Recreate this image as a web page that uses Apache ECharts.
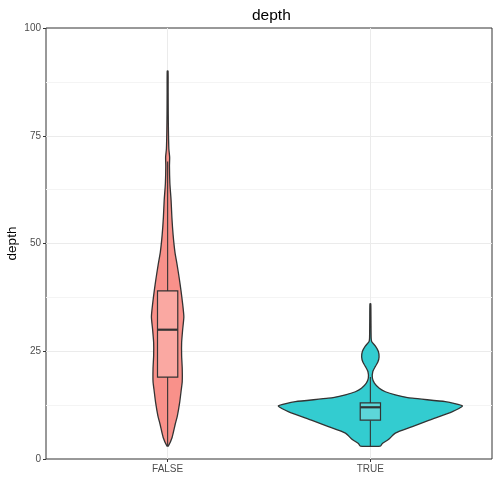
<!DOCTYPE html>
<html>
<head>
<meta charset="utf-8">
<script src="https://cdn.jsdelivr.net/npm/echarts@6/dist/echarts.min.js"></script>
<style>
html, body { margin: 0; padding: 0; background: #fff; }
#main { width: 500px; height: 482px; }
</style>
</head>
<body>
<div id="main"></div>
<script>
var categories = ['FALSE', 'TRUE'];
var yTicks = [0, 25, 50, 75, 100];

// violin outlines: depth values and half widths (in x units)
var falseDepth = [3, 5, 8, 10, 13, 16, 18, 21, 24, 27, 30, 33, 36, 39, 42, 45, 48, 52, 56, 60, 64, 68, 70, 72, 76, 80, 85, 90];
var falseWidth = [0.003, 0.022, 0.037, 0.048, 0.059, 0.067, 0.072, 0.072, 0.069, 0.069, 0.074, 0.080, 0.074, 0.066,
                  0.057, 0.047, 0.036, 0.027, 0.021, 0.017, 0.011, 0.009, 0.010, 0.006, 0.004, 0.003, 0.0025, 0.002];
var trueDepth = [3, 3.6, 4.5, 6, 7.5, 9, 11, 12.3, 13.3, 14.1, 14.9, 15.6, 16.4, 17.6, 18.8, 20.3, 21.5, 22.5, 23.7, 25, 26.2, 27.2, 28, 32, 36];
var trueWidth = [0.049, 0.059, 0.089, 0.123, 0.207, 0.291, 0.405, 0.454, 0.370, 0.207, 0.123, 0.074, 0.044, 0.020,
                 0.010, 0.012, 0.025, 0.037, 0.043, 0.039, 0.025, 0.007, 0.004, 0.003, 0.002];

// box stats: whisker low, Q1, median, Q3, whisker high
var falseBox = [3, 19, 30, 39, 69];
var trueBox = [3, 9, 12, 13, 19];

var violinDepth = [falseDepth, trueDepth];
var violinWidth = [falseWidth, trueWidth];
var boxStats = [falseBox, trueBox];
var violinFill = ['#F9918A', '#33CCD0'];
var boxFill = ['#FAA8A2', '#5DD6D9'];

var myChart = echarts.init(document.getElementById('main'));

function renderViolin(params, api) {
    var i = params.dataIndex;
    var cx = api.value(0);
    var d = violinDepth[i], w = violinWidth[i];
    var pts = [];
    for (var k = 0; k < d.length; k++) pts.push(api.coord([cx - w[k], d[k]]));
    for (var k = d.length - 1; k >= 0; k--) pts.push(api.coord([cx + w[k], d[k]]));

    var s = boxStats[i];
    var tl = api.coord([cx - 0.05, s[3]]);
    var br = api.coord([cx + 0.05, s[1]]);
    var lo = api.coord([cx, s[0]]), q1 = api.coord([cx, s[1]]);
    var q3 = api.coord([cx, s[3]]), hi = api.coord([cx, s[4]]);
    var medL = api.coord([cx - 0.05, s[2]]), medR = api.coord([cx + 0.05, s[2]]);
    var line = { stroke: '#333333', lineWidth: 1.1 };
    return {
        type: 'group',
        children: [
            { type: 'polygon', shape: { points: pts, smooth: 0.2 },
              style: { fill: violinFill[i], stroke: '#333333', lineWidth: 1.3 } },
            { type: 'line', shape: { x1: lo[0], y1: lo[1], x2: q1[0], y2: q1[1] }, style: line },
            { type: 'line', shape: { x1: q3[0], y1: q3[1], x2: hi[0], y2: hi[1] }, style: line },
            { type: 'rect', shape: { x: tl[0], y: tl[1], width: br[0] - tl[0], height: br[1] - tl[1] },
              style: { fill: boxFill[i], stroke: '#333333', lineWidth: 1.2 } },
            { type: 'line', shape: { x1: medL[0], y1: medL[1], x2: medR[0], y2: medR[1] },
              style: { stroke: '#333333', lineWidth: 2.2 } }
        ]
    };
}

var option = {
    animation: false,
    title: {
        text: 'depth',
        left: 247,
        top: 3,
        textStyle: { color: '#000', fontSize: 15.5, fontWeight: 'normal', fontFamily: 'Liberation Sans' }
    },
    grid: {
        left: 46, right: 8, top: 28, bottom: 23,
        outerBoundsMode: 'none',
        containLabel: false,
        show: true, borderColor: '#333333', borderWidth: 1, backgroundColor: '#fff'
    },
    xAxis: {
        type: 'value',
        min: 0.4,
        max: 2.6,
        axisLine: { show: false },
        axisTick: { show: true, length: 3, customValues: [1, 2], lineStyle: { color: '#333333' } },
        axisLabel: {
            customValues: [1, 2],
            margin: 5,
            color: '#4D4D4D',
            fontSize: 10,
            fontFamily: 'Liberation Sans',
            formatter: function (v) { return categories[Math.round(v) - 1]; }
        },
        splitLine: { show: true, lineStyle: { color: '#EBEBEB', width: 1 } }
    },
    yAxis: {
        type: 'value',
        min: 0,
        max: 100,
        interval: 25,
        name: 'depth',
        nameLocation: 'middle',
        nameRotate: 90,
        nameGap: 27,
        nameMoveOverlap: false,
        nameTextStyle: { color: '#000', fontSize: 13.5, fontFamily: 'Liberation Sans' },
        axisLine: { show: false },
        axisTick: { show: true, length: 3, customValues: yTicks, lineStyle: { color: '#333333' } },
        axisLabel: { customValues: yTicks, margin: 5, color: '#4D4D4D', fontSize: 10, fontFamily: 'Liberation Sans' },
        splitLine: { show: true, showMinLine: false, showMaxLine: false, lineStyle: { color: '#EBEBEB', width: 1 } },
        minorTick: { show: false, splitNumber: 2 },
        minorSplitLine: { show: true, lineStyle: { color: '#F4F4F4', width: 1 } }
    },
    series: [{
        type: 'custom',
        renderItem: renderViolin,
        clip: true,
        data: [[1], [2]]
    }]
};

myChart.setOption(option);
</script>
</body>
</html>
